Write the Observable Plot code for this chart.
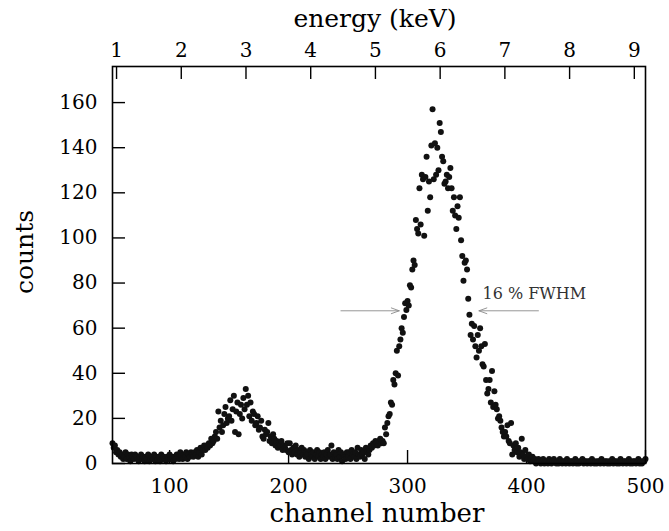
<!DOCTYPE html>
<html>
<head>
<meta charset="utf-8">
<script src="https://cdn.jsdelivr.net/npm/d3@7"></script>
<script src="https://cdn.jsdelivr.net/npm/@observablehq/plot@0.6"></script>
<style>
  body { margin: 0; background: #fff; }
  svg { display: block; }
</style>
</head>
<body>
<div id="chart"></div>
<script>
// ---- data ----
const channelStart = 52;
// counts per channel, channels 52 ... 500
const counts = [
  9, 7, 8, 5, 6, 4, 5, 3,
  4, 2, 3, 5, 2, 4, 3, 1, 4, 3,
  2, 4, 3, 2, 1, 3, 4, 2, 3, 1,
  3, 2, 4, 1, 2, 3, 2, 4, 1, 3,
  2, 3, 1, 4, 2, 3, 2, 1, 3, 2,
  4, 2, 3, 1, 3, 2, 4, 3, 2, 5,
  3, 2, 4, 3, 5, 2, 4, 3, 5, 4,
  3, 5, 4, 6, 3, 5, 7, 4, 6, 8,
  6, 8, 7, 9, 8, 11, 9, 10, 12, 14,
  11, 23, 16, 19, 14, 17, 22, 25, 18, 20,
  21, 28, 19, 24, 30, 14, 23, 27, 13, 22,
  26, 20, 29, 24, 33, 26, 30, 21, 27, 19,
  23, 22, 17, 18, 21, 15, 16, 19, 12, 11,
  15, 13, 14, 18, 10, 12, 9, 13, 11, 8,
  10, 7, 9, 8, 10, 6, 8, 7, 6, 9,
  5, 9, 6, 4, 7, 5, 8, 4, 6, 3,
  5, 7, 4, 6, 3, 5, 4, 2, 6, 4,
  3, 5, 2, 4, 6, 3, 5, 2, 4, 3,
  5, 2, 4, 6, 3, 4, 8, 2, 5, 3,
  4, 2, 6, 3, 5, 1, 4, 3, 2, 5,
  3, 5, 2, 6, 4, 3, 5, 2, 7, 4,
  3, 6, 4, 5, 2, 7, 5, 4, 6, 8,
  7, 9, 8, 10, 9, 8, 10, 11, 9, 10,
  9, 16, 13, 18, 21, 22, 27, 26, 37, 35,
  40, 50, 39, 52, 55, 60, 58, 65, 71, 68,
  72, 70, 79, 78, 86, 90, 88, 108, 104, 102,
  122, 106, 128, 126, 101, 127, 136, 112, 125, 118,
  141, 157, 126, 142, 128, 140, 130, 151, 147, 136,
  134, 124, 125, 128, 122, 127, 131, 122, 112, 118,
  110, 104, 114, 109, 118, 99, 92, 81, 89, 90,
  86, 73, 66, 57, 62, 55, 61, 52, 47, 57,
  50, 60, 52, 44, 43, 53, 37, 31, 33, 37,
  27, 41, 25, 32, 26, 24, 20, 21, 19, 16,
  14, 12, 14, 12, 17, 10, 9, 18, 4, 8,
  6, 9, 5, 7, 3, 5, 11, 4, 2, 6,
  3, 2, 4, 1, 2, 3, 1, 2, 0, 1,
  2, 1, 0, 1, 2, 0, 1, 1, 0, 2,
  1, 0, 1, 2, 1, 0, 1, 0, 2, 1,
  0, 1, 1, 0, 2, 1, 0, 1, 1, 0,
  1, 2, 0, 1, 0, 1, 1, 2, 0, 1,
  1, 0, 1, 1, 0, 2, 1, 0, 1, 0,
  1, 1, 0, 2, 1, 0, 1, 1, 0, 1,
  0, 1, 2, 0, 1, 1, 0, 1, 0, 2,
  1, 0, 1, 1, 0, 1, 2, 0, 1, 0,
  1, 1, 0, 1, 2, 0, 1, 0, 1, 1,
  2
];
const xDomain = [52, 500];
const yDomain = [0, 176];
const xTicks = [100, 200, 300, 400, 500];
const yTicks = [0, 20, 40, 60, 80, 100, 120, 140, 160];
const energyTicks = [1, 2, 3, 4, 5, 6, 7, 8, 9];
const channelsPerKeV = 54.4;
const channelOffset = 1;
const fwhmArrows = [
  {from: 244, to: 293, count: 67.7},
  {from: 410, to: 360, count: 67.7}
];
const fwhmLabel = [{channel: 363, count: 73, text: "16 % FWHM"}];
const xTitle = "channel number";
const yTitle = "counts";
const topTitle = "energy (keV)";

// ---- build ----
const points = counts.map((c, i) => ({channel: channelStart + i, count: c}));
const energyChannels = energyTicks.map(e => e * channelsPerKeV + channelOffset);

const W = 669, H = 531;
const mL = 112, mR = 24, mT = 66, mB = 68;
const frameW = W - mL - mR, frameH = H - mT - mB;
const tickLen = 13;
const font = "'DejaVu Serif', serif";

const chart = Plot.plot({
  width: W,
  height: H,
  marginLeft: mL,
  marginRight: mR,
  marginTop: mT,
  marginBottom: mB,
  style: {fontFamily: font, fontSize: "20px", color: "#000", background: "#fff"},
  x: {domain: xDomain, axis: null},
  y: {domain: yDomain, axis: null},
  marks: [
    Plot.axisX({anchor: "bottom", ticks: xTicks, tickSize: 0, tickPadding: 15, label: null, tickFormat: d => String(d)}),
    Plot.axisX({anchor: "top", ticks: energyChannels, tickSize: 0, tickPadding: 10, label: null,
      tickFormat: d => String(Math.round((d - channelOffset) / channelsPerKeV))}),
    Plot.axisY({anchor: "left", ticks: yTicks, tickSize: 0, tickPadding: 15, label: null, tickFormat: d => String(d)}),
    Plot.tickX(xTicks, {x: d => d, insetTop: frameH - tickLen, stroke: "#000", strokeWidth: 1.4}),
    Plot.tickX(energyChannels, {x: d => d, insetBottom: frameH - tickLen, stroke: "#000", strokeWidth: 1.4}),
    Plot.tickY(yTicks, {y: d => d, insetRight: frameW - tickLen, stroke: "#000", strokeWidth: 1.4}),
    Plot.dot(points, {x: "channel", y: "count", r: 3, fill: "#111", stroke: "none"}),
    Plot.arrow(fwhmArrows, {x1: "from", x2: "to", y1: "count", y2: "count", stroke: "#8a8a8a",
      strokeWidth: 0.9, headLength: 14, headAngle: 40}),
    Plot.text(fwhmLabel, {x: "channel", y: "count", text: "text", textAnchor: "start", lineAnchor: "bottom",
      fontSize: 16, fill: "#333"}),
    Plot.frame({stroke: "#000", strokeWidth: 1.6}),
    Plot.text([topTitle], {text: d => d, frameAnchor: "top", dy: -48, dx: -4, textAnchor: "middle", lineAnchor: "middle", fontSize: 25}),
    Plot.text([xTitle], {text: d => d, frameAnchor: "bottom", dy: 50, dx: -2, textAnchor: "middle", lineAnchor: "middle", fontSize: 26}),
    Plot.text([yTitle], {text: d => d, frameAnchor: "left", dx: -88, dy: -13, rotate: -90, textAnchor: "middle", lineAnchor: "middle", fontSize: 25})
  ]
});
document.getElementById("chart").appendChild(chart);
</script>
</body>
</html>
